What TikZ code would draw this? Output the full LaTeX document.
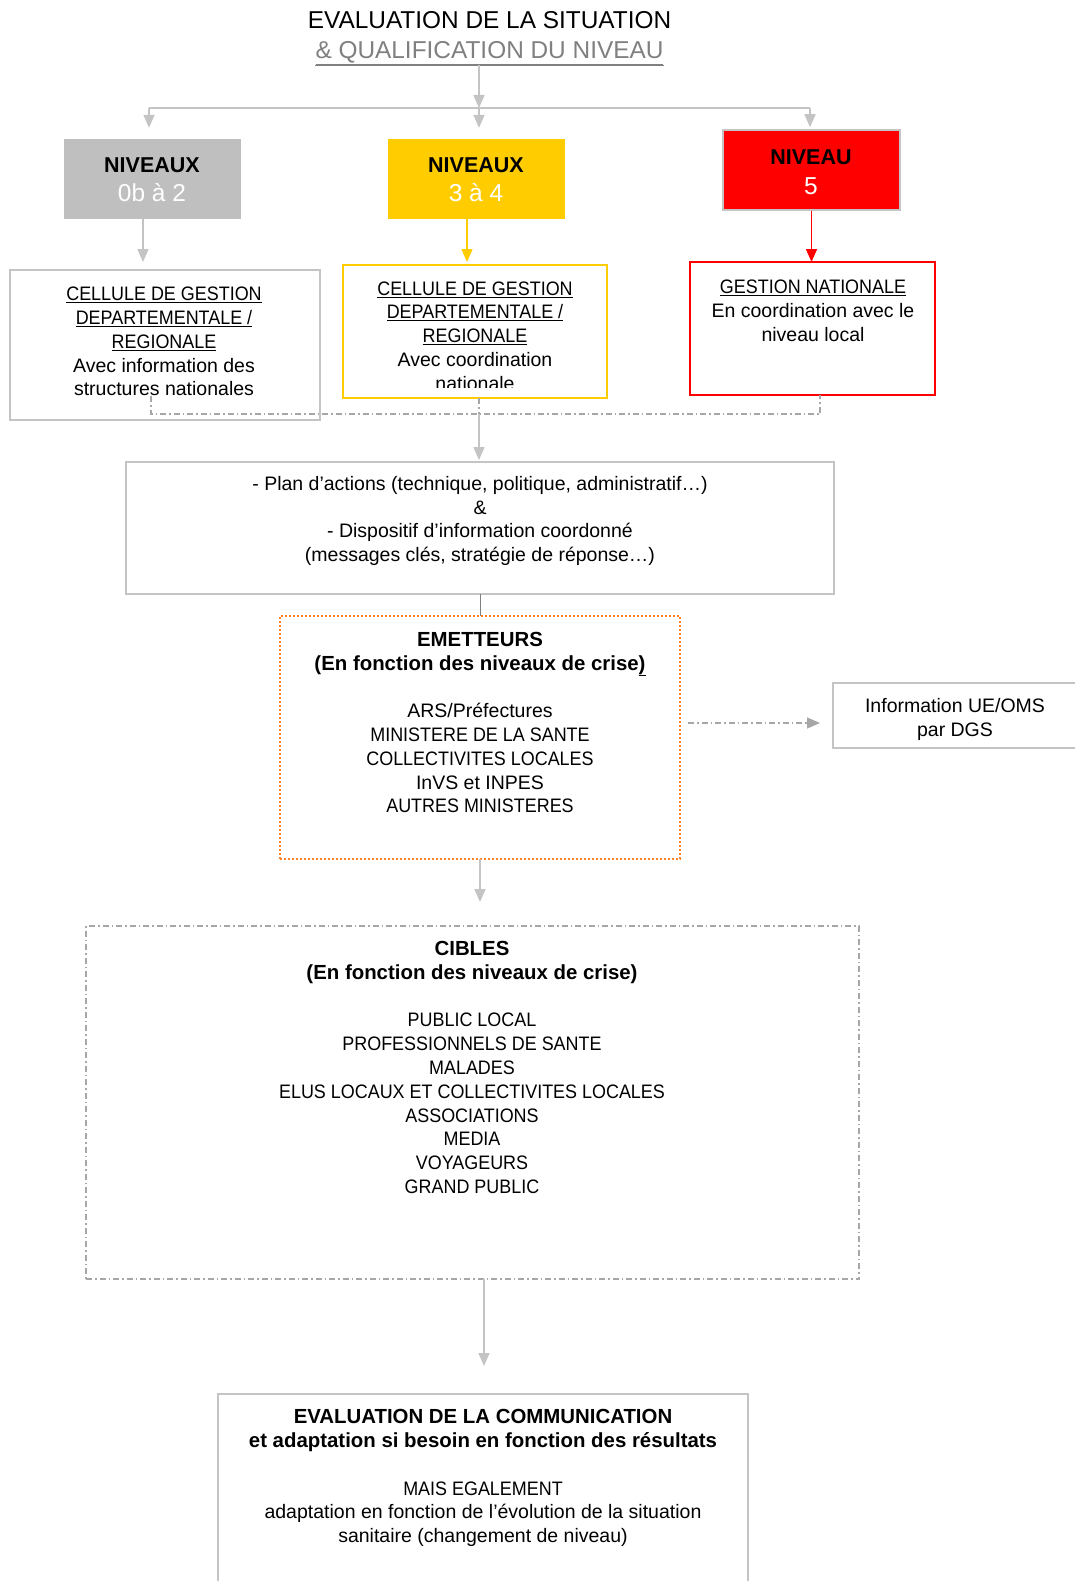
\documentclass[tikz,border=0pt]{standalone}
\usepackage{fontspec}
\setmainfont{Liberation Sans}
\newfontfamily\capsf[FakeStretch=0.92]{Liberation Sans}
\usetikzlibrary{arrows.meta,calc}
\definecolor{lgray}{RGB}{191,191,191}
\definecolor{bgray}{RGB}{196,196,196}
\definecolor{ngold}{RGB}{255,204,0}
\definecolor{nred}{RGB}{255,0,0}
\definecolor{org}{RGB}{255,130,40}
\definecolor{tgray}{RGB}{128,128,128}
\newcommand{\bt}[1]{{\fontsize{20.4}{23.8}\selectfont\bfseries #1}}
\newcommand{\ulc}[1]{\underline{\capsf #1}}
\begin{document}
\begin{tikzpicture}[x=1pt,y=-1pt,
  box/.style={draw=bgray,line width=2pt,inner sep=0pt,outer sep=0pt},
  txt/.style={align=center,inner sep=0pt,font=\fontsize{19.5}{23.8}\selectfont},
  lvtxt/.style={inner sep=0pt,font=\fontsize{21.5}{24}\selectfont\bfseries},
  lvnum/.style={inner sep=0pt,text=white,font=\fontsize{24.5}{26}\selectfont},
  tip/.style={-{Triangle[length=13pt,width=11pt]}},
  garrow/.style={draw=bgray,line width=1.6pt,tip},
  yarrow/.style={draw=ngold,line width=1.6pt,tip},
  rarrow/.style={draw=nred,line width=1.6pt,tip},
  gline/.style={draw=bgray,line width=1.6pt},
  dline/.style={draw=tgray,line width=1pt},
  dd/.style={draw=bgray!85!black,line width=1.3pt,dash pattern=on 6pt off 3pt on 1.5pt off 3pt},
]
\useasboundingbox[fill=white] (0,0) rectangle (1075,1581);

% title
\node[inner sep=0pt,font=\fontsize{24.4}{29}\selectfont] (title1) at (489.5,20) {EVALUATION DE LA SITUATION};
\node[inner sep=0pt,text=tgray,font=\fontsize{24.4}{29}\selectfont] (title2) at (489.5,53) {\underline{\& QUALIFICATION DU NIVEAU}};
\draw[tgray,line width=1.2pt] ([yshift=-0.6pt]title2.south west) -- ([yshift=-0.6pt]title2.south east);

% level boxes
\node[fill=lgray,minimum width=177pt,minimum height=80pt,inner sep=0pt] (lvl0) at (152.5,179) {};
\node[fill=ngold,minimum width=177pt,minimum height=80pt,inner sep=0pt] (lvl3) at (476.5,179) {};
\node[fill=nred,draw=bgray,line width=1.5pt,minimum width=177pt,minimum height=80pt,inner sep=0pt] (lvl5) at (811.5,170) {};
\node[lvtxt] (lvl0a) at (152,165) {NIVEAUX};
\node[lvnum] (lvl0b) at (152,193) {0b à 2};
\node[lvtxt] (lvl3a) at (476,165) {NIVEAUX};
\node[lvnum] (lvl3b) at (476,193) {3 à 4};
\node[lvtxt] (lvl5a) at (811,157) {NIVEAU};
\node[lvnum] (lvl5b) at (811,186) {5};

% connectors from title
\coordinate (jc) at (479,108);
\coordinate (jl) at (149,108);
\coordinate (jr) at (810,108);
\draw[garrow] (title2.south -| jc) -- (jc);
\draw[gline] (jl) -- (jr);
\draw[garrow,shorten >=11pt] (jl) -- (jl |- lvl0.north);
\draw[garrow,shorten >=11pt] (jc) -- (jc |- lvl3.north);
\draw[garrow,shorten >=2pt] (jr) -- (jr |- lvl5.north);

% second row boxes
\node[box,minimum width=310pt,minimum height=150pt] (cg) at (165,345) {};
\node[box,draw=ngold,minimum width=264pt,minimum height=133pt] (cy) at (475,331.5) {};
\node[box,draw=nred,minimum width=245pt,minimum height=133pt] (cr) at (812.5,328.5) {};

\node[txt] (cgtxt) at (164,341.5) {\ulc{CELLULE DE GESTION}\\\ulc{DEPARTEMENTALE /}\\\ulc{REGIONALE}\\Avec information des\\structures nationales};
\begin{scope}
\clip (344,266) rectangle (606,387);
\node[txt] (cytxt) at (475,336) {\ulc{CELLULE DE GESTION}\\\ulc{DEPARTEMENTALE /}\\\ulc{REGIONALE}\\Avec coordination\\nationale};
\end{scope}
\node[txt] (crtxt) at (813,310.5) {\ulc{GESTION NATIONALE}\\En coordination avec le\\niveau local};

% arrows from levels
\coordinate (a0) at (143,262);
\coordinate (a3) at (467,262);
\draw[garrow] (a0 |- lvl0.south) -- (a0);
\draw[yarrow] (a3 |- lvl3.south) -- (a3);
\draw[rarrow] (lvl5.south) -- (lvl5.south |- cr.north);

% plan box
\node[box,minimum width=708pt,minimum height=132pt] (plan) at (480,528) {};
\node[txt] (plantxt) at (480,521) {- Plan d’actions (technique, politique, administratif…)\\\&\\- Dispositif d’information coordonné\\(messages clés, stratégie de réponse…)};

% dash-dot gathering
\coordinate (d0) at (151,396);
\coordinate (dl) at (151,414);
\coordinate (dm) at (479,414);
\coordinate (dr) at (820,414);
\draw[dd] (d0) -- (dl) -- (dr) -- (dr |- cr.south);
\draw[dd] (dm |- cy.south) -- (dm);
\draw[garrow,shorten >=2pt] (dm) -- (dm |- plan.north);

% emetteurs
\node[box,draw=org,line width=1.8pt,dash pattern=on 2pt off 2pt,minimum width=400pt,minimum height=243pt] (emet) at (480,737.5) {};
\node[txt] (emettxt) at (480,722.5) {\bt{EMETTEURS}\\\bt{(En fonction des niveaux de crise\underline{)}}\\[23.8pt]ARS/Préfectures\\{\capsf MINISTERE DE LA SANTE}\\{\capsf COLLECTIVITES LOCALES}\\InVS et INPES\\{\capsf AUTRES MINISTERES}};
\draw[dline] (plan.south) -- (emet.north);

% info box
\node[box,minimum width=257pt,minimum height=65pt] (info) at (961.5,715.5) {};
\node[txt] (infotxt) at (955,719.5) {Information UE/OMS\\par DGS};
\coordinate (e0) at (688,723);
\draw[dd,tip,shorten >=13pt] (e0) -- (e0 -| info.west);

% cibles
\node[box,dd,line width=1.3pt,minimum width=773pt,minimum height=353pt] (cib) at (472.5,1102.5) {};
\node[txt] (cibtxt) at (472,1067.5) {\bt{CIBLES}\\\bt{(En fonction des niveaux de crise)}\\[23.8pt]\capsf PUBLIC LOCAL\\\capsf PROFESSIONNELS DE SANTE\\\capsf MALADES\\\capsf ELUS LOCAUX ET COLLECTIVITES LOCALES\\\capsf ASSOCIATIONS\\\capsf MEDIA\\\capsf VOYAGEURS\\\capsf GRAND PUBLIC};
\draw[garrow,shorten >=24pt] (emet.south) -- (emet.south |- cib.north);

% evaluation
\node[box,minimum width=530pt,minimum height=200pt] (eval) at (483,1494) {};
\node[txt] (evaltxt) at (483,1478) {\bt{EVALUATION DE LA COMMUNICATION}\\\bt{et adaptation si besoin en fonction des résultats}\\[23.8pt]{\capsf MAIS EGALEMENT}\\adaptation en fonction de l’évolution de la situation\\sanitaire (changement de niveau)};
\coordinate (c0) at (484,1279);
\draw[garrow,shorten >=28pt] (c0 |- cib.south) -- (c0 |- eval.north);
\end{tikzpicture}
\end{document}
